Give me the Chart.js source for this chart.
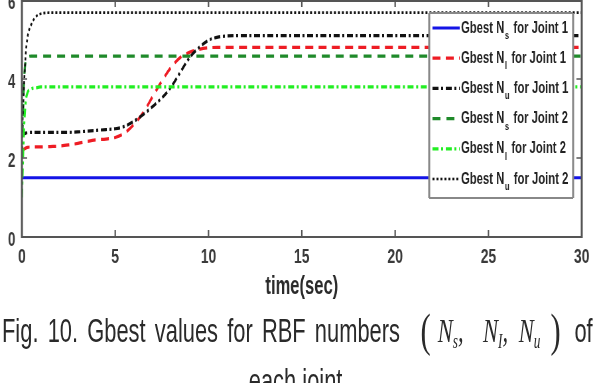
<!DOCTYPE html>
<html><head><meta charset="utf-8">
<script src="https://cdn.jsdelivr.net/npm/chart.js@4/dist/chart.umd.min.js"></script>
<style>
html,body{margin:0;padding:0;background:#fff;overflow:hidden;width:597px;height:383px}
#wrap{position:absolute;left:0;top:0;width:900px;height:383px;transform:scaleX(0.66333);transform-origin:0 0}
#c{position:absolute;left:0;top:0}
.cap{position:absolute;font-family:"Liberation Sans",Arial,sans-serif;font-size:33px;color:#2a2a2a;white-space:nowrap;line-height:1}
.m{position:absolute;font-family:"Liberation Serif","Times New Roman",serif;font-style:italic;font-size:34px;color:#2a2a2a;white-space:nowrap;line-height:1}
.m sub{font-size:20px;vertical-align:-6px}
.par{position:absolute;font-family:"Liberation Serif",serif;font-size:46px;color:#2a2a2a;line-height:1}
</style></head><body>
<div id="wrap">
<canvas id="c" width="900" height="302"></canvas>
<div class="cap" id="cap1" style="left:3px;top:314px;width:600px;text-align:justify;text-align-last:justify">Fig. 10. Gbest values for RBF numbers</div>
<div class="par" style="left:634px;top:308px">(</div>
<div class="m" style="left:660px;top:314px">N<sub>s</sub>,</div>
<div class="m" style="left:728px;top:314px">N<sub>I</sub>,</div>
<div class="m" style="left:782px;top:314px">N<sub>u</sub></div>
<div class="par" style="left:830px;top:308px">)</div>
<div class="cap" style="left:866px;top:314px">of</div>
<div class="cap" style="left:375px;top:364px">each joint</div>
</div>
<script>
const time = [0, 0.1, 0.2, 0.3, 0.5, 0.8, 1, 1.5, 2, 2.5, 3, 3.5, 4, 4.5, 5, 5.5, 6, 6.5, 7, 7.5, 8, 8.5, 9, 9.5, 10, 10.5, 11, 12, 15, 20, 25, 30];
const nsJoint1 = [1.5, 1.5, 1.5, 1.5, 1.5, 1.5, 1.5, 1.5, 1.5, 1.5, 1.5, 1.5, 1.5, 1.5, 1.5, 1.5, 1.5, 1.5, 1.5, 1.5, 1.5, 1.5, 1.5, 1.5, 1.5, 1.5, 1.5, 1.5, 1.5, 1.5, 1.5, 1.5];
const nlJoint1 = [2.2, 2.22, 2.25, 2.27, 2.28, 2.28, 2.28, 2.29, 2.3, 2.33, 2.37, 2.42, 2.46, 2.48, 2.52, 2.63, 2.85, 3.15, 3.55, 3.95, 4.3, 4.55, 4.68, 4.75, 4.79, 4.8, 4.8, 4.8, 4.8, 4.8, 4.8, 4.8];
const nuJoint1 = [2.55, 2.6, 2.63, 2.64, 2.65, 2.65, 2.65, 2.65, 2.65, 2.65, 2.66, 2.68, 2.7, 2.72, 2.74, 2.8, 2.93, 3.1, 3.3, 3.52, 3.8, 4.18, 4.55, 4.8, 4.98, 5.06, 5.09, 5.1, 5.1, 5.1, 5.1, 5.1];
const nsJoint2 = [2.0, 3.8, 4.45, 4.55, 4.58, 4.58, 4.58, 4.58, 4.58, 4.58, 4.58, 4.58, 4.58, 4.58, 4.58, 4.58, 4.58, 4.58, 4.58, 4.58, 4.58, 4.58, 4.58, 4.58, 4.58, 4.58, 4.58, 4.58, 4.58, 4.58, 4.58, 4.58];
const nlJoint2 = [1.0, 2.6, 3.4, 3.65, 3.75, 3.78, 3.8, 3.8, 3.8, 3.8, 3.8, 3.8, 3.8, 3.8, 3.8, 3.8, 3.8, 3.8, 3.8, 3.8, 3.8, 3.8, 3.8, 3.8, 3.8, 3.8, 3.8, 3.8, 3.8, 3.8, 3.8, 3.8];
const nuJoint2 = [2.5, 3.7, 4.6, 5.05, 5.38, 5.6, 5.65, 5.68, 5.68, 5.68, 5.68, 5.68, 5.68, 5.68, 5.68, 5.68, 5.68, 5.68, 5.68, 5.68, 5.68, 5.68, 5.68, 5.68, 5.68, 5.68, 5.68, 5.68, 5.68, 5.68, 5.68, 5.68];
const xTicks = [0, 5, 10, 15, 20, 25, 30];
const yTicks = [0, 2, 4, 6];
const legendSubs = ['s', 'l', 'u', 's', 'l', 'u'];
const legendJoints = ['1', '1', '1', '2', '2', '2'];

const seriesDefs = [
  {vals: nsJoint1, color: '#1414e6', dash: [], width: 3.2},
  {vals: nlJoint1, color: '#ee1c24', dash: [12, 8], width: 3.2},
  {vals: nuJoint1, color: '#111111', dash: [9, 4, 3, 4], width: 3.2},
  {vals: nsJoint2, color: '#1f8a2a', dash: [12, 9], width: 3.2},
  {vals: nlJoint2, color: '#22ee22', dash: [9, 4, 3, 4], width: 3.2},
  {vals: nuJoint2, color: '#111111', dash: [3, 3], width: 2.6}
];

const datasets = seriesDefs.map((s, i) => ({
  label: 'Gbest N' + legendSubs[i] + ' for Joint ' + legendJoints[i],
  data: time.map((t, k) => ({x: t, y: s.vals[k]})),
  borderColor: s.color,
  borderDash: s.dash,
  borderWidth: s.width,
  pointRadius: 0,
  fill: false,
  cubicInterpolationMode: 'monotone',
  order: 6 - i
}));

const tickFont = {family: '"Liberation Sans", Arial, sans-serif', weight: 'bold', size: 21};

const framePlugin = {
  id: 'frame',
  afterDatasetsDraw(chart) {
    const {ctx, chartArea: a, scales} = chart;
    ctx.save();
    ctx.strokeStyle = '#555';
    ctx.lineCap = 'butt';
    ctx.lineWidth = 2;
    ctx.beginPath();
    ctx.moveTo(a.left, a.bottom); ctx.lineTo(a.right, a.bottom);
    ctx.moveTo(a.left, a.top + 1); ctx.lineTo(a.right, a.top + 1);
    ctx.stroke();
    ctx.lineWidth = 3;
    ctx.beginPath();
    ctx.moveTo(a.left, a.top); ctx.lineTo(a.left, a.bottom + 1);
    ctx.moveTo(a.right, a.top); ctx.lineTo(a.right, a.bottom + 1);
    ctx.stroke();
    ctx.lineWidth = 2.2;
    ctx.beginPath();
    xTicks.forEach(v => {
      const px = scales.x.getPixelForValue(v);
      if (v === xTicks[0] || v === xTicks[xTicks.length - 1]) return;
      ctx.moveTo(px, a.bottom); ctx.lineTo(px, a.bottom - 7);
      ctx.moveTo(px, a.top); ctx.lineTo(px, a.top + 7);
    });
    ctx.stroke();
    ctx.lineWidth = 1.6;
    ctx.beginPath();
    yTicks.forEach(v => {
      const py = scales.y.getPixelForValue(v);
      if (v === yTicks[0] || v === yTicks[yTicks.length - 1]) return;
      ctx.moveTo(a.left, py); ctx.lineTo(a.left + 8, py);
      ctx.moveTo(a.right, py); ctx.lineTo(a.right - 8, py);
    });
    ctx.stroke();
    ctx.restore();
  }
};

const legendPlugin = {
  id: 'boxLegend',
  afterDraw(chart) {
    const {ctx} = chart;
    const bx = 647, by = 13, bw = 217, bh = 185;
    ctx.save();
    ctx.fillStyle = '#fff';
    ctx.fillRect(bx, by, bw, bh);
    ctx.strokeStyle = '#888';
    ctx.lineWidth = 2;
    ctx.beginPath();
    ctx.moveTo(bx, by); ctx.lineTo(bx + bw, by);
    ctx.moveTo(bx, by + bh); ctx.lineTo(bx + bw, by + bh);
    ctx.stroke();
    ctx.lineWidth = 3;
    ctx.beginPath();
    ctx.moveTo(bx, by); ctx.lineTo(bx, by + bh);
    ctx.moveTo(bx + bw, by); ctx.lineTo(bx + bw, by + bh);
    ctx.stroke();
    chart.data.datasets.forEach((ds, i) => {
      const y = by + 15 + i * 30.2;
      ctx.strokeStyle = ds.borderColor;
      ctx.lineWidth = ds.borderWidth;
      ctx.setLineDash(ds.borderDash);
      ctx.beginPath();
      ctx.moveTo(652, y); ctx.lineTo(693, y);
      ctx.stroke();
      ctx.setLineDash([]);
      ctx.fillStyle = '#222';
      ctx.textBaseline = 'middle';
      ctx.textAlign = 'left';
      ctx.font = 'bold 17px "Liberation Sans", Arial, sans-serif';
      let x = 695;
      const main = 'Gbest N';
      ctx.fillText(main, x, y);
      x += ctx.measureText(main).width + 1;
      ctx.font = 'bold 11px "Liberation Sans", Arial, sans-serif';
      ctx.fillText(legendSubs[i], x, y + 8);
      x += ctx.measureText(legendSubs[i]).width + 2;
      ctx.font = 'bold 17px "Liberation Sans", Arial, sans-serif';
      ctx.fillText(' for Joint ' + legendJoints[i], x, y);
    });
    ctx.restore();
  }
};

new Chart(document.getElementById('c'), {
  type: 'line',
  data: {datasets},
  options: {
    responsive: false,
    animation: false,
    devicePixelRatio: 1,
    layout: {padding: {left: 0, right: 23, top: 0, bottom: 0}},
    plugins: {legend: {display: false}, tooltip: {enabled: false}},
    scales: {
      x: {
        type: 'linear', min: 0, max: 30,
        afterBuildTicks: s => { s.ticks = xTicks.map(v => ({value: v})); },
        grid: {display: false, drawTicks: false},
        border: {display: false},
        ticks: {font: tickFont, color: '#3a3a3a', padding: 8, maxRotation: 0, autoSkip: false},
        title: {display: true, text: 'time(sec)', font: {family: '"Liberation Sans", Arial, sans-serif', weight: 'bold', size: 25}, color: '#2a2a2a', padding: {top: 0, bottom: 0}},
        afterFit: s => { s.height = 65; s.paddingLeft = 0; s.paddingRight = 0; }
      },
      y: {
        min: 0, max: 6,
        afterBuildTicks: s => { s.ticks = yTicks.map(v => ({value: v})); },
        grid: {display: false, drawTicks: false},
        border: {display: false},
        ticks: {font: {family: '"Liberation Sans", Arial, sans-serif', weight: 'bold', size: 20}, color: '#3a3a3a', padding: 10, labelOffset: 3, autoSkip: false},
        afterFit: s => { s.width = 33; s.paddingTop = 0; s.paddingBottom = 0; }
      }
    }
  },
  plugins: [framePlugin, legendPlugin]
});
</script>
</body></html>
